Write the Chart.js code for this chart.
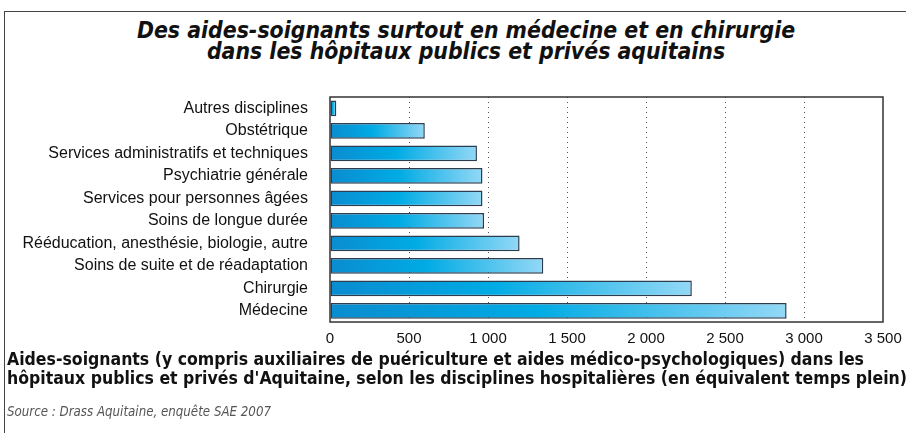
<!DOCTYPE html>
<html>
<head>
<meta charset="utf-8">
<script src="https://cdn.jsdelivr.net/npm/chart.js@4.4.1/dist/chart.umd.min.js"></script>
<style>
  html, body { margin: 0; padding: 0; background: #fff; }
  #wrap { position: relative; width: 906px; height: 433px; overflow: hidden; }
  #frame { position: absolute; left: 4px; top: 11px; width: 910px; height: 430px;
           border-left: 1.5px solid #444; border-top: 1.5px solid #444; }
  #title { position: absolute; left: 30px; width: 872px; top: 20px; text-align: center;
           font-family: "Liberation Sans Narrow", "DejaVu Sans Condensed", sans-serif;
           font-style: italic; font-weight: bold; font-size: 22.8px; line-height: 21px; color: #111; }
  #caption { position: absolute; left: 7px; top: 350px; white-space: nowrap;
             font-family: "Liberation Sans Narrow", "DejaVu Sans Condensed", sans-serif;
             font-weight: bold; font-size: 17.5px; line-height: 19px; color: #111; }
  #source { position: absolute; left: 7px; top: 404px;
            font-family: "Liberation Sans Narrow", "DejaVu Sans Condensed", sans-serif;
            font-style: italic; font-size: 13.2px; color: #555; }
  #box { position: absolute; left: 0; top: 0; width: 906px; height: 433px; }
</style>
</head>
<body>
<div id="wrap">
  <div id="frame"></div>
  <div id="title">Des aides-soignants surtout en médecine et en chirurgie<br>dans les hôpitaux publics et privés aquitains</div>
  <div id="box"><canvas id="barChart"></canvas></div>
  <div id="caption">Aides-soignants (y compris auxiliaires de puériculture et aides médico-psychologiques) dans les<br>hôpitaux publics et privés d'Aquitaine, selon les disciplines hospitalières (en équivalent temps plein)</div>
  <div id="source">Source : Drass Aquitaine, enquête SAE 2007</div>
</div>
<script>
const categories = ["Autres disciplines", "Obstétrique", "Services administratifs et techniques",
    "Psychiatrie générale", "Services pour personnes âgées", "Soins de longue durée",
    "Rééducation, anesthésie, biologie, autre", "Soins de suite et de réadaptation",
    "Chirurgie", "Médecine"];
const values = [40, 600, 930, 965, 965, 975, 1200, 1350, 2290, 2890];
const xTicks = [0, 500, 1000, 1500, 2000, 2500, 3000, 3500];

const CHART = document.getElementById('barChart').getContext('2d');

function fmt(v) {
    return v >= 1000 ? Math.floor(v / 1000) + ' ' + String(v % 1000).padStart(3, '0') : String(v);
}

function barFill(c) {
    const chart = c.chart;
    const xs = chart.scales.x;
    if (!xs || c.raw === undefined) return '#00aae5';
    const x0 = xs.getPixelForValue(0);
    const x1 = xs.getPixelForValue(c.raw);
    if (!isFinite(x0) || !isFinite(x1) || x1 - x0 < 1) return '#00aae5';
    const g = chart.ctx.createLinearGradient(x0, 0, x1, 0);
    g.addColorStop(0, '#0a8cd0');
    g.addColorStop(0.45, '#00abe4');
    g.addColorStop(1, '#93d8f6');
    return g;
}

const framePlugin = {
    id: 'frame',
    afterDatasetsDraw(chart) {
        const a = chart.chartArea;
        const ctx = chart.ctx;
        ctx.save();
        ctx.strokeStyle = '#333';
        ctx.lineWidth = 1.5;
        ctx.strokeRect(a.left, a.top, a.right - a.left, a.bottom - a.top);
        ctx.restore();
    }
};

let barChart = new Chart(CHART, {
    type: 'bar',
    data: {
        labels: categories,
        datasets: [{
            data: values,
            backgroundColor: barFill,
            borderColor: '#2b3d4f',
            borderWidth: 1.5,
            borderSkipped: false,
            barPercentage: 0.7,
            categoryPercentage: 1.0
        }]
    },
    plugins: [framePlugin],
    options: {
        indexAxis: 'y',
        responsive: true,
        maintainAspectRatio: false,
        animation: false,
        layout: { padding: { left: 0, top: 97, right: 23, bottom: 81 } },
        plugins: { legend: { display: false }, tooltip: { enabled: false } },
        scales: {
            x: {
                min: 0, max: 3500,
                afterBuildTicks: s => { s.ticks = xTicks.map(v => ({ value: v })); },
                afterFit: s => { s.height = 30; s.paddingLeft = 0; s.paddingRight = 0; },
                ticks: {
                    color: '#111', padding: 8,
                    font: { family: 'Liberation Sans, Arial, sans-serif', size: 15 },
                    callback: v => fmt(v),
                    maxRotation: 0
                },
                grid: {
                    drawTicks: false,
                    color: c => (c.tick && (c.tick.value === 0 || c.tick.value === 3500)) ? 'rgba(0,0,0,0)' : '#555',
                    lineWidth: 1
                },
                border: { display: false, dash: [1, 4] }
            },
            y: {
                afterFit: s => { s.width = 330; },
                ticks: {
                    color: '#111', padding: 22,
                    font: { family: 'Liberation Sans, Arial, sans-serif', size: 16 }
                },
                grid: { display: false, drawTicks: false },
                border: { display: false }
            }
        }
    }
});
</script>
</body>
</html>
